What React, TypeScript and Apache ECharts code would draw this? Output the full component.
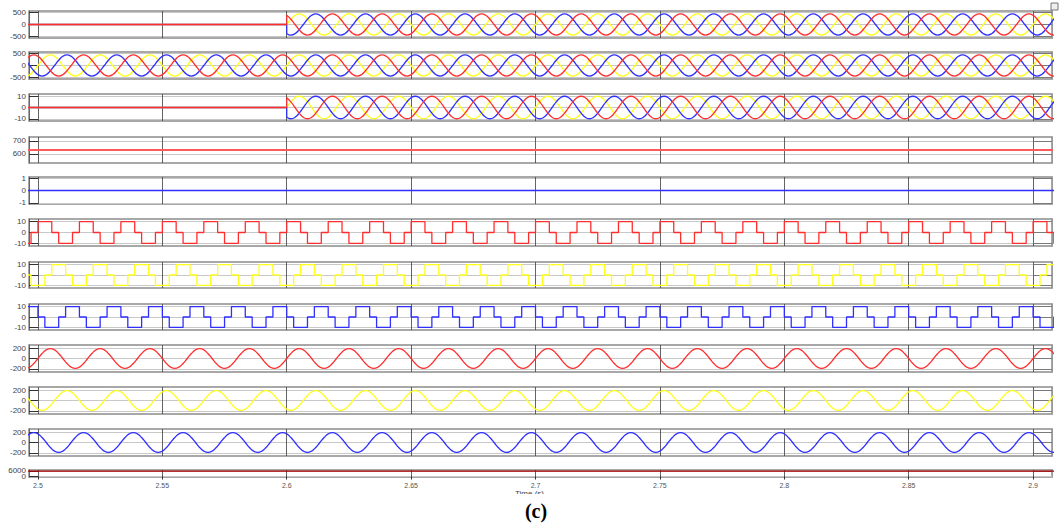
import React, { useEffect, useRef } from 'react';
import * as echarts from 'echarts';

// ---------- axis extents & tick labels ----------
const X_MIN = 2.4964;
const X_MAX = 2.9076;
const xTicks = [2.5, 2.55, 2.6, 2.65, 2.7, 2.75, 2.8, 2.85, 2.9];

const yRanges: [number, number][] = [
  [-560, 560], [-560, 560], [-12, 12], [530, 730], [-1.1, 1.1],
  [-12.5, 12.5], [-12.5, 12.5], [-12.5, 12.5],
  [-260, 260], [-260, 260], [-260, 260], [-500, 7000],
];
const yTickValues: number[][] = [
  [-500, 0, 500], [-500, 0, 500], [-10, 0, 10], [600, 700], [-1, 0, 1],
  [-10, 0, 10], [-10, 0, 10], [-10, 0, 10],
  [-200, 0, 200], [-200, 0, 200], [-200, 0, 200], [6000],
];
const lastPanelExtraTicks = [0];

// ---------- 50 Hz waveforms: one cycle read every 30 deg (1/600 s) from t = 2.5 s ----------
const SINE_T0 = 2.5;
const SINE_DT = 1 / 600;
const ON_TIME = 2.6; // inverter output switched on

const vRedCycle = [381, 220, 0, -220, -381, -440, -381, -220, 0, 220, 381, 440];
const vYellowCycle = [0, 220, 381, 440, 381, 220, 0, -220, -381, -440, -381, -220];
const vBlueCycle = [-381, -440, -381, -220, 0, 220, 381, 440, 381, 220, 0, -220];

const iRedCycle = [8.7, 5, 0, -5, -8.7, -10, -8.7, -5, 0, 5, 8.7, 10];
const iYellowCycle = [0, 5, 8.7, 10, 8.7, 5, 0, -5, -8.7, -10, -8.7, -5];
const iBlueCycle = [-8.7, -10, -8.7, -5, 0, 5, 8.7, 10, 8.7, 5, 0, -5];

const loadRedCycle = [0, 95, 165, 190, 165, 95, 0, -95, -165, -190, -165, -95];
const loadYellowCycle = [-165, -190, -165, -95, 0, 95, 165, 190, 165, 95, 0, -95];
const loadBlueCycle = [165, 95, 0, -95, -165, -190, -165, -95, 0, 95, 165, 190];

// ---------- 60 Hz six-step signals: level per 60 deg segment (1/360 s) from t = 2.5 s ----------
const STEP_T0 = 2.5;
const STEP_DT = 1 / 360;
const gateRed = [10, 10, 0, -10, -10, 0];
const gateYellow = [-10, 0, 10, 10, 0, -10];
const gateBlue = [0, -10, -10, 0, 10, 10];

// ---------- constant signals ----------
const dcLinkLevel = 630;
const zeroLevel = 0;
const speedLevel = 5900;

// ---------- layout ----------
const panelTops = [11, 52, 94, 137, 177, 219, 262, 304, 345, 387, 429, 470];
const panelHeights = [27, 27, 27, 26, 27, 27, 26, 26, 27, 27, 27, 7];
const GRID_LEFT = 29;
const GRID_RIGHT = 7;

const RED = '#ff2e2e';
const YELLOW = '#ffff1a';
const BLUE = '#2f2fff';
const FONT = 'Liberation Sans, Arial, sans-serif';

function tile(cycle: number[], t0: number, dt: number, kStart: number, kEnd: number) {
  const n = cycle.length;
  const out: number[][] = [];
  for (let k = kStart; k <= kEnd; k++) out.push([t0 + k * dt, cycle[((k % n) + n) % n]]);
  return out;
}

function sineFull(cycle: number[]) {
  const kStart = Math.floor((X_MIN - SINE_T0) / SINE_DT) - 2;
  const kEnd = Math.ceil((X_MAX - SINE_T0) / SINE_DT) + 2;
  return tile(cycle, SINE_T0, SINE_DT, kStart, kEnd);
}
function sineFromOn(cycle: number[]) {
  const kStart = Math.round((ON_TIME - SINE_T0) / SINE_DT);
  const kEnd = Math.ceil((X_MAX - SINE_T0) / SINE_DT) + 2;
  return tile(cycle, SINE_T0, SINE_DT, kStart, kEnd);
}
function flatUntilOn(cycle: number[]) {
  const k = Math.round((ON_TIME - SINE_T0) / SINE_DT);
  const v = cycle[((k % cycle.length) + cycle.length) % cycle.length];
  return [[X_MIN - 0.01, 0], [ON_TIME, 0], [ON_TIME, v]];
}
function steps(levels: number[]) {
  const kStart = Math.floor((X_MIN - STEP_T0) / STEP_DT) - 2;
  const kEnd = Math.ceil((X_MAX - STEP_T0) / STEP_DT) + 2;
  return tile(levels, STEP_T0, STEP_DT, kStart, kEnd);
}
function constant(v: number) {
  return [[X_MIN - 0.01, v], [X_MAX + 0.01, v]];
}

function lineSeries(gi: number, data: number[][], color: string, opts: any = {}) {
  return {
    type: 'line',
    xAxisIndex: gi,
    yAxisIndex: gi,
    data,
    showSymbol: false,
    symbol: 'none',
    clip: true,
    lineStyle: { color, width: 1.3 },
    silent: true,
    ...opts,
  };
}

export default function App() {
  const ref = useRef<HTMLDivElement>(null);
  useEffect(() => {
    if (!ref.current) return;
    const chart = echarts.init(ref.current, undefined, { renderer: 'svg' });
    const n = panelTops.length;
    const grids = [];
    const xAxes = [];
    const yAxes: any[] = [];
    for (let i = 0; i < n; i++) {
      const last = i === n - 1;
      grids.push({
        left: GRID_LEFT,
        right: GRID_RIGHT,
        top: panelTops[i],
        height: panelHeights[i],
        show: true,
        backgroundColor: '#ffffff',
        borderColor: '#8c8c8c',
        borderWidth: 1.5,
        containLabel: false,
        outerBoundsMode: 'none',
      });
      xAxes.push({
        gridIndex: i,
        type: 'value',
        min: X_MIN,
        max: X_MAX,
        axisLine: { show: false },
        axisTick: {
          show: last,
          customValues: xTicks,
          length: 3,
          lineStyle: { color: '#333' },
        },
        axisLabel: {
          show: last,
          customValues: xTicks,
          fontSize: 7,
          color: '#555',
          margin: 5,
          fontFamily: FONT,
          formatter: (v: number) => String(v),
        },
        splitLine: { show: true, lineStyle: { color: '#3c3c3c', width: 0.8 } },
      });
      const ticks = last ? yTickValues[i].concat(lastPanelExtraTicks) : yTickValues[i];
      yAxes.push({
        gridIndex: i,
        type: 'value',
        position: 'left',
        min: yRanges[i][0],
        max: yRanges[i][1],
        axisLine: { show: true, lineStyle: { color: '#666', width: 1 } },
        axisTick: {
          show: true,
          inside: true,
          length: 9,
          customValues: ticks,
          lineStyle: { color: '#333' },
        },
        axisLabel: {
          customValues: yTickValues[i],
          fontSize: 8,
          color: '#444',
          margin: 3,
          fontFamily: FONT,
          hideOverlap: false,
          formatter: (v: number) => String(v),
        },
        splitLine: { show: true, lineStyle: { color: '#c8c8c8', width: 1 } },
      });
    }
    // right-side mirror ticks
    for (let i = 0; i < n; i++) {
      yAxes.push({
        gridIndex: i,
        type: 'value',
        position: 'right',
        min: yRanges[i][0],
        max: yRanges[i][1],
        axisLine: { show: true, lineStyle: { color: '#999', width: 1 } },
        axisTick: {
          show: true,
          inside: true,
          length: 19,
          customValues: yTickValues[i],
          lineStyle: { color: '#666', width: 0.8 },
        },
        axisLabel: { show: false },
        splitLine: { show: false },
      });
    }
    // extra left label ("0") for the bottom panel, which overlaps "6000" in the reference
    yAxes.push({
      gridIndex: n - 1,
      type: 'value',
      position: 'left',
      min: yRanges[n - 1][0],
      max: yRanges[n - 1][1],
      axisLine: { show: false },
      axisTick: { show: false },
      axisLabel: {
        customValues: lastPanelExtraTicks,
        fontSize: 8,
        color: '#444',
        margin: 3,
        fontFamily: FONT,
        formatter: (v: number) => String(v),
      },
      splitLine: { show: false },
    });

    const smooth = { smooth: 0.5 };
    const series: any[] = [
      // panel 1: inverter voltage (off until 2.6 s)
      lineSeries(0, flatUntilOn(vYellowCycle), YELLOW),
      lineSeries(0, sineFromOn(vYellowCycle), YELLOW, smooth),
      lineSeries(0, flatUntilOn(vBlueCycle), BLUE),
      lineSeries(0, sineFromOn(vBlueCycle), BLUE, smooth),
      lineSeries(0, flatUntilOn(vRedCycle), RED),
      lineSeries(0, sineFromOn(vRedCycle), RED, smooth),
      // panel 2: grid voltage
      lineSeries(1, sineFull(vYellowCycle), YELLOW, smooth),
      lineSeries(1, sineFull(vBlueCycle), BLUE, smooth),
      lineSeries(1, sineFull(vRedCycle), RED, smooth),
      // panel 3: current (off until 2.6 s)
      lineSeries(2, flatUntilOn(iYellowCycle), YELLOW),
      lineSeries(2, sineFromOn(iYellowCycle), YELLOW, smooth),
      lineSeries(2, flatUntilOn(iBlueCycle), BLUE),
      lineSeries(2, sineFromOn(iBlueCycle), BLUE, smooth),
      lineSeries(2, flatUntilOn(iRedCycle), RED),
      lineSeries(2, sineFromOn(iRedCycle), RED, smooth),
      // panel 4: DC link
      lineSeries(3, constant(dcLinkLevel), '#ff5a5a', { lineStyle: { color: '#ff5a5a', width: 2 } }),
      // panel 5: zero signal
      lineSeries(4, constant(zeroLevel), BLUE, { lineStyle: { color: BLUE, width: 1.5 } }),
      // panels 6-8: six-step signals
      lineSeries(5, steps(gateRed), RED, { step: 'end' }),
      lineSeries(6, steps(gateYellow), YELLOW, { step: 'end' }),
      lineSeries(7, steps(gateBlue), BLUE, { step: 'end' }),
      // panels 9-11: load sines
      lineSeries(8, sineFull(loadRedCycle), RED, smooth),
      lineSeries(9, sineFull(loadYellowCycle), YELLOW, smooth),
      lineSeries(10, sineFull(loadBlueCycle), BLUE, smooth),
      // panel 12: speed
      lineSeries(11, constant(speedLevel), '#b00000', { lineStyle: { color: '#b00000', width: 1.3 } }),
    ];

    chart.setOption({
      animation: false,
      backgroundColor: '#ffffff',
      grid: grids,
      xAxis: xAxes,
      yAxis: yAxes,
      series,
      graphic: [
        {
          type: 'text',
          left: 515,
          top: 489,
          z: 10,
          style: { text: 'Time (s)', fontSize: 8, fill: '#444', fontFamily: FONT },
        },
        {
          type: 'rect',
          shape: { x: 0, y: 494, width: 1059, height: 40 },
          z: 11,
          style: { fill: '#ffffff' },
        },
        {
          type: 'text',
          x: 536,
          y: 511,
          z: 12,
          style: {
            text: '(c)',
            fontSize: 20,
            fontWeight: 'bold',
            fill: '#000',
            fontFamily: 'Liberation Serif, Times New Roman, serif',
            align: 'center',
            verticalAlign: 'middle',
          },
        },
        {
          type: 'rect',
          shape: { x: 1051, y: 3, width: 7, height: 7 },
          z: 12,
          style: { fill: '#eeeeee', stroke: '#777', lineWidth: 1 },
        },
      ],
    });
    return () => chart.dispose();
  }, []);
  return (
    <div
      ref={ref}
      style={{ position: 'fixed', left: 0, top: 0, width: 1059, height: 531, background: '#fff' }}
    />
  );
}
